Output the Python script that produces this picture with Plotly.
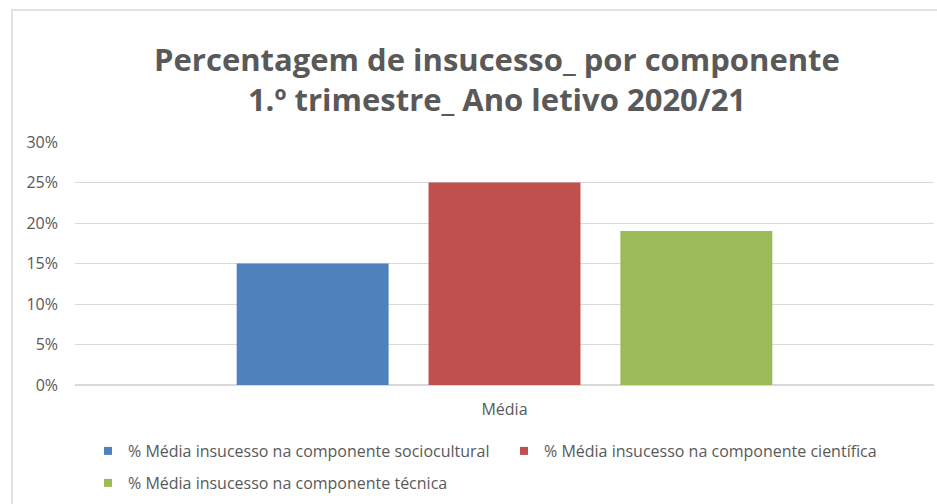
import plotly.graph_objects as go

categories = ["Média"]
series_names = [
    "% Média insucesso na componente sociocultural",
    "% Média insucesso na componente científica",
    "% Média insucesso na componente técnica",
]
series_values = [[0.15], [0.25], [0.19]]
colors = ["#4f81bd", "#c0504d", "#9bbb59"]
y_ticks = [0, 0.05, 0.10, 0.15, 0.20, 0.25, 0.30]

FONT = "Open Sans, sans-serif"
W, H = 937, 504
L, R, T, B = 75, 3, 142, 119
pw, ph = W - L - R, H - T - B

fig = go.Figure()
for i, (name, vals, col) in enumerate(zip(series_names, series_values, colors)):
    fig.add_trace(go.Bar(x=categories, y=vals, name=name, marker_color=col,
                         marker_line_width=0, showlegend=False))
    fig.add_trace(go.Scatter(x=[None], y=[None], mode="markers", name=name,
                             marker=dict(symbol="square", size=8, color=col),
                             legend="legend" if i < 2 else "legend2"))

def px_x(x):
    return (x - L) / pw

def px_y(y):
    return (H - B - y) / ph

fig.update_layout(
    width=W, height=H,
    margin=dict(l=L, r=R, t=T, b=B, autoexpand=False),
    paper_bgcolor="white", plot_bgcolor="white",
    font=dict(family=FONT, size=16, color="#595959"),
    title=dict(text="<b>Percentagem de insucesso_ por componente<br>1.º trimestre_ Ano letivo 2020/21</b>",
               x=497 / W, xref="container", xanchor="center", y=1 - 71 / H, yref="container", yanchor="middle",
               font=dict(family=FONT, size=31, color="#595959")),
    barmode="group", bargap=0.33, bargroupgap=0.208,
    xaxis=dict(showgrid=False, showline=False, ticks="", ticklabelstandoff=13,
               tickfont=dict(size=16, color="#595959")),
    yaxis=dict(range=[0, 0.30], tickvals=y_ticks, tickformat=".0%", showgrid=True,
               gridcolor="#d9d9d9", gridwidth=1, zeroline=True, zerolinecolor="#d9d9d9",
               showline=False, ticks="", ticklabelstandoff=16,
               tickfont=dict(size=16, color="#595959")),
    legend=dict(orientation="h", xref="container", x=88 / W, xanchor="left",
                yref="container", y=1 - 434 / H, yanchor="top",
                entrywidth=371, entrywidthmode="pixels", itemwidth=30,
                font=dict(size=16, color="#595959"), bgcolor="rgba(0,0,0,0)"),
    legend2=dict(orientation="h", xref="container", x=88 / W, xanchor="left",
                 yref="container", y=1 - 466 / H, yanchor="top",
                 itemwidth=30, font=dict(size=16, color="#595959"), bgcolor="rgba(0,0,0,0)"),
    shapes=[dict(type="rect", xref="paper", yref="paper",
                 x0=px_x(12), x1=px_x(W + 20), y0=px_y(H + 20), y1=px_y(10),
                 line=dict(color="#d9d9d9", width=1.5), fillcolor="rgba(0,0,0,0)", layer="below")],
)

fig.write_html("out.html")
